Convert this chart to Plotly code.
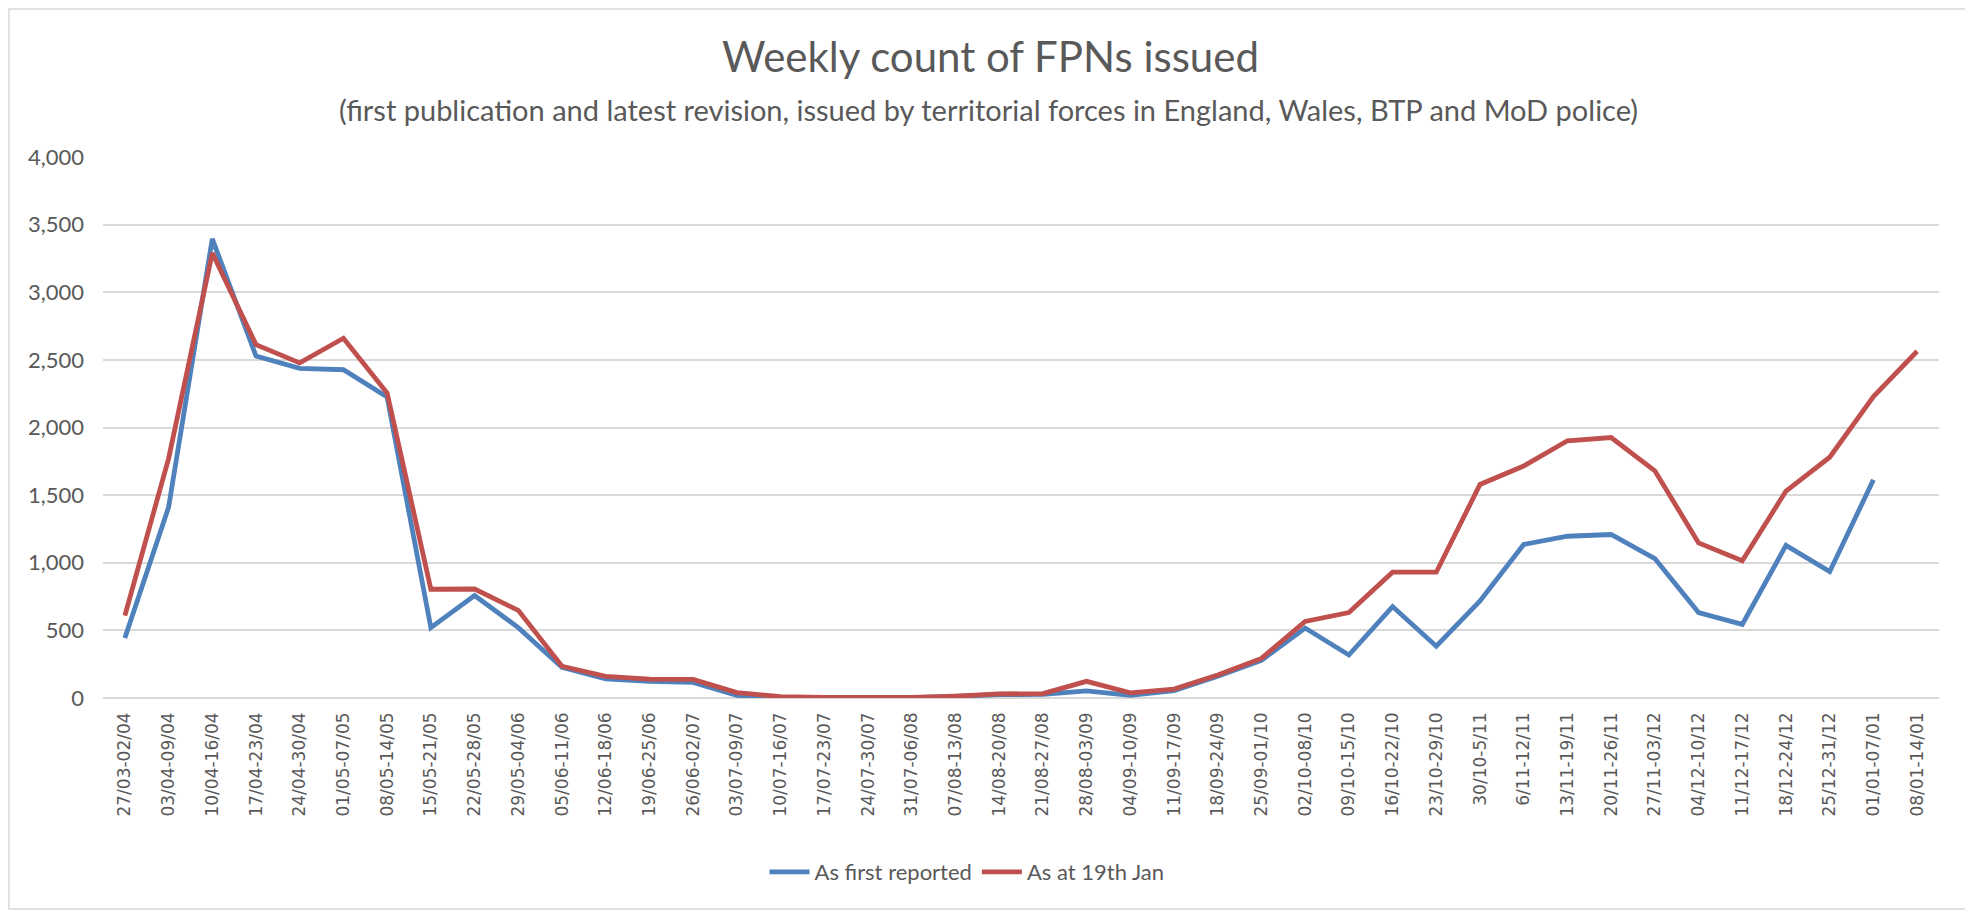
import plotly.graph_objects as go

weeks = ["27/03-02/04", "03/04-09/04", "10/04-16/04", "17/04-23/04", "24/04-30/04",
         "01/05-07/05", "08/05-14/05", "15/05-21/05", "22/05-28/05", "29/05-04/06",
         "05/06-11/06", "12/06-18/06", "19/06-25/06", "26/06-02/07", "03/07-09/07",
         "10/07-16/07", "17/07-23/07", "24/07-30/07", "31/07-06/08", "07/08-13/08",
         "14/08-20/08", "21/08-27/08", "28/08-03/09", "04/09-10/09", "11/09-17/09",
         "18/09-24/09", "25/09-01/10", "02/10-08/10", "09/10-15/10", "16/10-22/10",
         "23/10-29/10", "30/10-5/11", "6/11-12/11", "13/11-19/11", "20/11-26/11",
         "27/11-03/12", "04/12-10/12", "11/12-17/12", "18/12-24/12", "25/12-31/12",
         "01/01-07/01", "08/01-14/01"]

as_first_reported = [443, 1410, 3395, 2528, 2437, 2427, 2225, 520, 758, 520,
                     226, 142, 123, 115, 19, 5, 3, 3, 3, 12,
                     25, 27, 52, 19, 55, 161, 279, 517, 318, 676,
                     383, 717, 1135, 1196, 1209, 1031, 632, 544, 1128, 934,
                     1613, None]

as_at_19th_jan = [609, 1770, 3290, 2613, 2478, 2660, 2255, 804, 806, 648,
                  235, 160, 140, 138, 40, 10, 4, 4, 5, 14,
                  30, 33, 123, 38, 66, 170, 293, 566, 632, 930,
                  930, 1579, 1715, 1902, 1926, 1680, 1147, 1015, 1530, 1780,
                  2228, 2564]

y_ticks = [0, 500, 1000, 1500, 2000, 2500, 3000, 3500, 4000]

# page body has an 8px margin, so the figure is sized to fit the window
OFF = 8
W, H = 1973 - OFF, 911 - OFF
L, R, T, B = 103 - OFF, 34, 157 - OFF, 213
pw, ph = W - L - R, H - T - B

def px_x(p):
    return (p - L) / pw

def px_y(p):
    return (H - B - p) / ph

TEXT = "#595959"

fig = go.Figure()
fig.add_trace(go.Scatter(x=weeks, y=as_first_reported, mode="lines",
                         name="As first reported",
                         line=dict(color="#4F81BD", width=4.8)))
fig.add_trace(go.Scatter(x=weeks, y=as_at_19th_jan, mode="lines",
                         name="As at 19th Jan",
                         line=dict(color="#C0504D", width=4.8)))

fig.update_layout(
    width=W, height=H,
    margin=dict(l=L, r=R, t=T, b=B),
    paper_bgcolor="white", plot_bgcolor="white",
    title=dict(text="Weekly count of FPNs issued", x=0.5, xanchor="center",
               y=1 - (57 - OFF) / H, yanchor="middle",
               font=dict(family="Lato", size=42, color=TEXT)),
    showlegend=True,
    legend=dict(orientation="h", x=px_x(967 - OFF), xanchor="center",
                y=px_y(872 - OFF), yanchor="middle",
                font=dict(family="Lato", size=22, color=TEXT),
                itemwidth=40, traceorder="normal"),
    xaxis=dict(type="category", range=[-0.5, len(weeks) - 0.5],
               showgrid=False, showline=False, zeroline=False,
               tickangle=-90, ticks="",
               tickfont=dict(family="DejaVu Sans", size=17, color=TEXT),
               ticklabelstandoff=10),
    yaxis=dict(range=[0, 4000], tickvals=y_ticks, tickformat=",",
               showgrid=True, gridcolor="#D9D9D9", gridwidth=2,
               zeroline=True, zerolinecolor="#D9D9D9", zerolinewidth=2,
               showline=False, ticks="",
               tickfont=dict(family="Lato", size=22, color=TEXT),
               ticklabelstandoff=18),
    annotations=[dict(
        text="(first publication and latest revision, issued by territorial forces in England, Wales, BTP and MoD police)",
        xref="paper", yref="paper", x=px_x(988 - OFF), y=px_y(109.5 - OFF),
        xanchor="center", yanchor="middle", showarrow=False,
        font=dict(family="Lato", size=29, color=TEXT))],
    shapes=[dict(type="rect", xref="paper", yref="paper",
                 x0=px_x(1), x1=px_x(1968 - OFF), y0=px_y(909 - OFF), y1=px_y(1),
                 line=dict(color="#D9D9D9", width=1.5), layer="below")],
)

fig.write_html("out.html")
